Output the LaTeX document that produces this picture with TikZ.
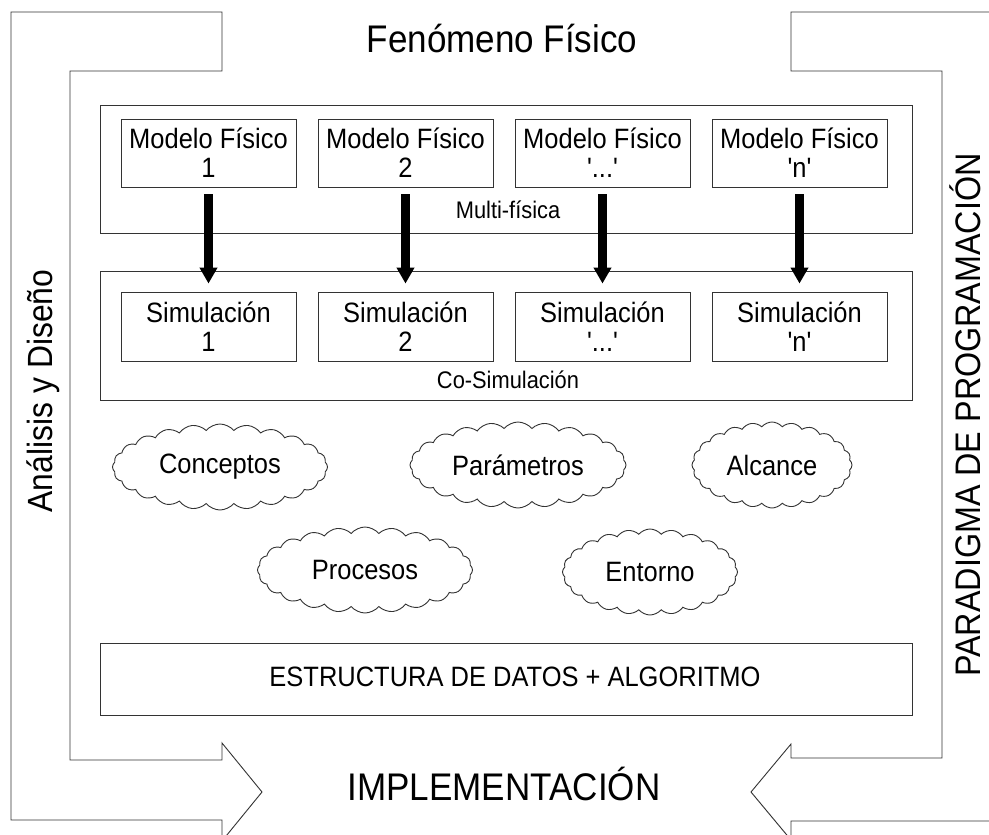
\documentclass[tikz,border=0pt]{standalone}
\usepackage{fontspec}
\setmainfont[FakeStretch=0.91, Ligatures=TeXOff]{Liberation Sans}
\usetikzlibrary{shapes.symbols,arrows.meta}
\begin{document}
\begin{tikzpicture}[x=1pt,y=-1pt,
  outline/.style={draw=black!80, line width=0.9pt},
  container/.style={outline, rectangle, minimum width=812pt, inner sep=0pt},
  modbox/.style={outline, rectangle, minimum width=175pt, minimum height=68pt, inner sep=0pt, align=center, font=\fontsize{28}{29}\selectfont},
  smalllabel/.style={font=\fontsize{24}{26}\selectfont, inner sep=0pt},
  biglabel/.style={font=\fontsize{38.5}{40}\selectfont, inner sep=0pt, anchor=base},
  idea/.style={outline, cloud, cloud puffs=24, cloud puff arc=100, cloud ignores aspect, minimum width=212pt, minimum height=86pt, inner sep=0pt, font=\fontsize{28}{30}\selectfont},
  blockarrow/.style={line width=9pt, draw=black, -{Triangle[width=17pt,length=16pt]}}
]
\useasboundingbox (0,0) rectangle (989,835);
\clip (0,0) rectangle (989,835);
\fill[white] (0,0) rectangle (989,835);

% left bracket arrow
\draw[outline] (11,12) -- (222,12) -- (222,71) -- (70,71) -- (70,760) -- (222,760) -- (222,743) -- (262,792) -- (222,841) -- (222,820) -- (11,820) -- cycle;
% right bracket arrow
\draw[outline] (1010,12) -- (791,12) -- (791,71) -- (942,71) -- (942,758) -- (791,758) -- (791,744) -- (751,792) -- (791,840) -- (791,821) -- (1010,821);

% labels of the frame
\node[biglabel] (fen) at (502,52) {Fenómeno Físico};
\node[biglabel] (impl) at (504,800) {IMPLEMENTACIÓN};
\node[biglabel, font=\fontsize{35}{36}\selectfont, rotate=90] (ana) at (52,391) {Análisis y Diseño};
\node[biglabel, font=\fontsize{35.5}{36}\selectfont, rotate=90] (para) at (980,415) {PARADIGMA DE PROGRAMACIÓN};

% containers
\node[container, minimum height=128pt] (multi) at (506,169) {};
\node[container, minimum height=129pt] (cosim) at (506,335.5) {};
\node[container, minimum height=72pt] (estr) at (506.5,679) {};
\node[font=\fontsize{28}{30}\selectfont, inner sep=0pt] (estrtxt) at (515,677) {ESTRUCTURA DE DATOS + ALGORITMO};
\node[smalllabel] (multitxt) at (508,210) {Multi-física};
\node[smalllabel] (cosimtxt) at (508,380) {Co-Simulación};

% model boxes
\node[modbox] (m1) at (208.5,153) {Modelo Físico\\1};
\node[modbox] (m2) at (405.5,153) {Modelo Físico\\2};
\node[modbox] (m3) at (602.5,153) {Modelo Físico\\'...'};
\node[modbox] (m4) at (799.5,153) {Modelo Físico\\'n'};

% simulation boxes
\node[modbox, minimum height=69pt] (s1) at (208.5,326.5) {Simulación\\1};
\node[modbox, minimum height=69pt] (s2) at (405.5,326.5) {Simulación\\2};
\node[modbox, minimum height=69pt] (s3) at (602.5,326.5) {Simulación\\'...'};
\node[modbox, minimum height=69pt] (s4) at (799.5,326.5) {Simulación\\'n'};

% thick arrows
\foreach \i in {1,2,3,4}{
  \draw[blockarrow] ([yshift=-7pt]m\i.south) -- ([yshift=8pt]s\i.north);
}

% clouds
\node[idea, minimum width=215pt] (conc) at (220,467) {Conceptos};
\node[idea, minimum width=216pt] (param) at (518,465) {Parámetros};
\node[idea, minimum width=160pt] (alc) at (772,465) {Alcance};
\node[idea, minimum width=215pt] (proc) at (365,570) {Procesos};
\node[idea, minimum width=175pt] (ent) at (650,572) {Entorno};
\end{tikzpicture}
\end{document}
